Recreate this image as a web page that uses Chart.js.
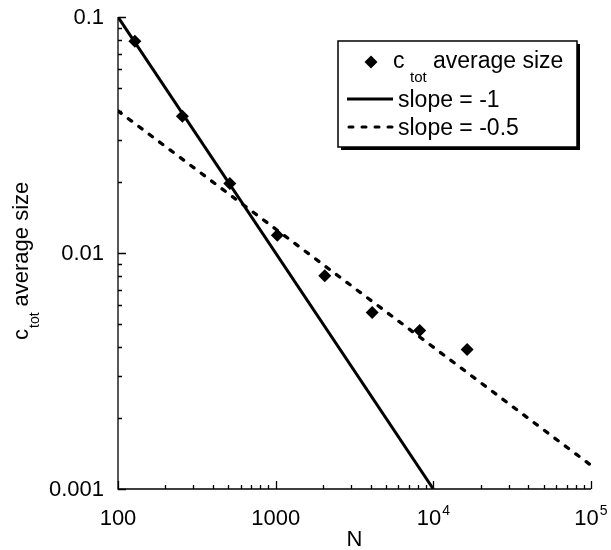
<!DOCTYPE html>
<html>
<head>
<meta charset="utf-8">
<script src="https://cdn.jsdelivr.net/npm/chart.js@4.4.1/dist/chart.umd.min.js"></script>
<style>
  html, body { margin: 0; padding: 0; background: #fff; }
  canvas { display: block; }
</style>
</head>
<body>
<canvas id="size_chart" width="611" height="550"></canvas>
<script>
// measured points
const nValues = [128, 256, 512, 1024, 2048, 4096, 8192, 16384];
const avgSize = [0.079, 0.038, 0.0197, 0.0119, 0.0080, 0.0056, 0.0047, 0.0039];

// reference lines
const slope1N = [100, 10000];
const slope1C = [0.1, 0.001];
const slopeHalfN = [100, 100000];
const slopeHalfC = [0.04, 0.00126];

// tick labels
const xTicks = [100, 1000, 10000, 100000];
const xTickLabels = [['100', ''], ['1000', ''], ['10', '4'], ['10', '5']];
const yTicks = [0.1, 0.01, 0.001];
const yTickLabels = ['0.1', '0.01', '0.001'];

const FONT = "'Liberation Sans', Arial, Helvetica, sans-serif";

const toPoints = (xs, ys) => xs.map((x, i) => ({ x: x, y: ys[i] }));

// axes, ticks, titles and legend are drawn by hand (inward ticks + subscripts)
const decorations = {
    id: 'decorations',
    afterDraw(chart) {
        const c = chart.ctx;
        const xs = chart.scales.x;
        const ys = chart.scales.y;
        const area = chart.chartArea;

        c.save();
        c.strokeStyle = '#000';
        c.fillStyle = '#000';
        c.lineWidth = 1.3;

        // axis lines
        c.beginPath();
        c.moveTo(area.left, area.top);
        c.lineTo(area.left, area.bottom);
        c.lineTo(area.right, area.bottom);
        c.stroke();

        // x ticks (pointing up into the plot)
        c.beginPath();
        for (let d = 100; d <= 100000; d *= 10) {
            for (let m = 1; m <= 9; m++) {
                const v = d * m;
                if (v > 100000) break;
                const px = Math.round(xs.getPixelForValue(v)) + 0.5;
                const len = m === 1 ? 8 : 4;
                c.moveTo(px, area.bottom);
                c.lineTo(px, area.bottom - len);
            }
        }
        // y ticks (pointing right)
        for (let d = 0.001; d <= 0.1 + 1e-9; d *= 10) {
            for (let m = 1; m <= 9; m++) {
                const v = d * m;
                if (v > 0.1 + 1e-9) break;
                const py = Math.round(ys.getPixelForValue(v)) + 0.5;
                const len = m === 1 ? 8 : 4;
                c.moveTo(area.left, py);
                c.lineTo(area.left + len, py);
            }
        }
        c.stroke();

        // y tick labels
        c.font = '22px ' + FONT;
        c.textAlign = 'right';
        c.textBaseline = 'middle';
        yTicks.forEach((v, i) => {
            c.fillText(yTickLabels[i], area.left - 14, ys.getPixelForValue(v) + 1);
        });

        // x tick labels, with superscript exponents
        c.textBaseline = 'alphabetic';
        c.textAlign = 'left';
        xTicks.forEach((v, i) => {
            const [base, exp] = xTickLabels[i];
            c.font = '22px ' + FONT;
            const bw = c.measureText(base).width;
            c.font = '14px ' + FONT;
            const ew = exp ? c.measureText(exp).width + 1 : 0;
            const x0 = xs.getPixelForValue(v) - (bw + ew) / 2;
            c.font = '22px ' + FONT;
            c.fillText(base, x0, 525);
            if (exp) {
                c.font = '14px ' + FONT;
                c.fillText(exp, x0 + bw + 1, 515);
            }
        });

        // x title
        c.font = '22px ' + FONT;
        c.textAlign = 'center';
        c.fillText('N', (area.left + area.right) / 2, 546);

        // y title, rotated, with subscript
        c.save();
        c.translate(28, 340);
        c.rotate(-Math.PI / 2);
        c.textAlign = 'left';
        c.font = '22px ' + FONT;
        c.fillText('c', 0, 0);
        let cx = c.measureText('c').width + 1;
        c.font = '14px ' + FONT;
        c.fillText('tot', cx, 11);
        cx += c.measureText('tot').width + 6;
        c.font = '22px ' + FONT;
        c.fillText('average size', cx, 0);
        c.restore();

        // legend box with drop shadow
        const bx = 338, by = 41, bw = 239, bh = 106;
        c.fillStyle = '#000';
        c.fillRect(bx + 3, by + 3, bw, bh);
        c.fillStyle = '#fff';
        c.fillRect(bx, by, bw, bh);
        c.lineWidth = 1.5;
        c.strokeRect(bx, by, bw, bh);

        c.fillStyle = '#000';
        // row 1: diamond marker
        const dx = 371, dy = 62, r = 6.5;
        c.beginPath();
        c.moveTo(dx, dy - r);
        c.lineTo(dx + r, dy);
        c.lineTo(dx, dy + r);
        c.lineTo(dx - r, dy);
        c.closePath();
        c.fill();
        c.textAlign = 'left';
        c.font = '23px ' + FONT;
        c.fillText('c', 393, 68);
        c.font = '15px ' + FONT;
        c.fillText('tot', 410, 82);
        c.font = '23px ' + FONT;
        c.fillText('average size', 433, 68);

        // row 2: solid
        c.lineWidth = 3;
        c.setLineDash([]);
        c.beginPath();
        c.moveTo(347, 99);
        c.lineTo(393, 99);
        c.stroke();
        c.fillText('slope = -1', 398, 107);

        // row 3: dashed
        c.lineCap = 'round';
        c.setLineDash([4, 9]);
        c.beginPath();
        c.moveTo(349, 127);
        c.lineTo(393, 127);
        c.stroke();
        c.setLineDash([]);
        c.fillText('slope = -0.5', 398, 135);

        c.restore();
    }
};

const ctx = document.getElementById('size_chart').getContext('2d');

const size_chart = new Chart(ctx, {
    type: 'scatter',
    data: {
        datasets: [
            {
                label: 'c_tot average size',
                data: toPoints(nValues, avgSize),
                pointStyle: 'rectRot',
                pointRadius: 6.5,
                backgroundColor: '#000',
                borderColor: '#000',
                borderWidth: 0,
            },
            {
                label: 'slope = -1',
                data: toPoints(slope1N, slope1C),
                showLine: true,
                pointRadius: 0,
                borderColor: '#000',
                borderWidth: 3,
            },
            {
                label: 'slope = -0.5',
                data: toPoints(slopeHalfN, slopeHalfC),
                showLine: true,
                pointRadius: 0,
                borderColor: '#000',
                borderWidth: 3.3,
                borderDash: [4, 9],
                borderCapStyle: 'round',
            }
        ]
    },
    options: {
        responsive: false,
        animation: false,
        devicePixelRatio: 1,
        layout: {
            padding: { left: 118, top: 17, right: 20, bottom: 61 }
        },
        scales: {
            x: { type: 'logarithmic', min: 100, max: 100000, display: false },
            y: { type: 'logarithmic', min: 0.001, max: 0.1, display: false }
        },
        plugins: {
            legend: { display: false },
            tooltip: { enabled: false }
        }
    },
    plugins: [decorations]
});
</script>
</body>
</html>
